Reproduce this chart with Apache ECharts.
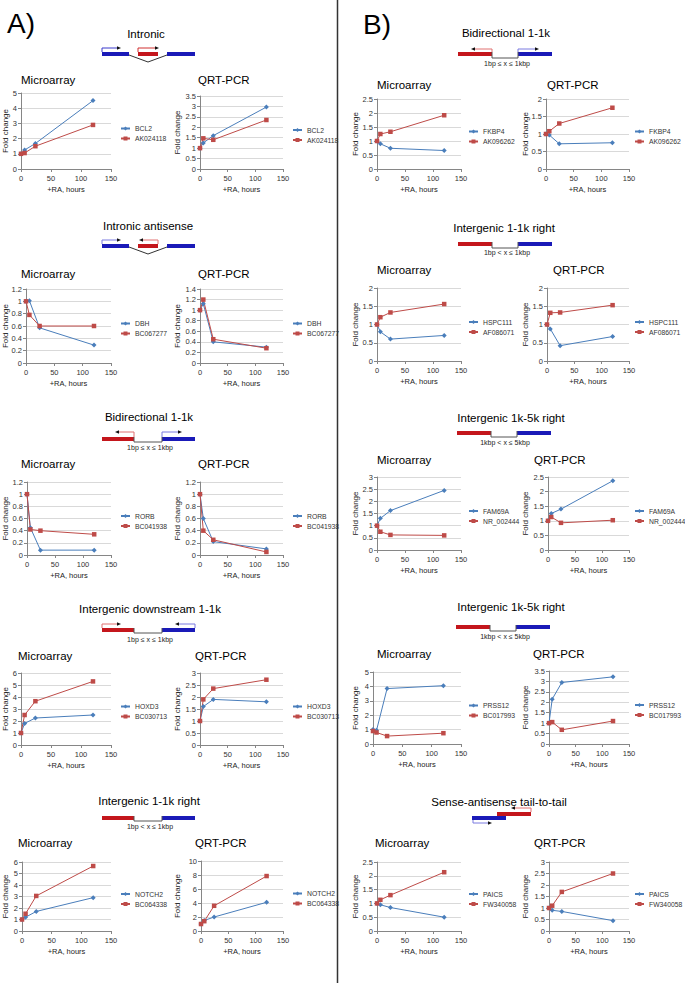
<!DOCTYPE html>
<html>
<head>
<meta charset="utf-8">
<script src="https://cdn.jsdelivr.net/npm/echarts@6/dist/echarts.min.js"></script>
<style>html,body{margin:0;padding:0;background:#fff}#c{width:685px;height:983px}</style>
</head>
<body>
<div id="c"></div>
<script>
// ---------- DATA ----------
const hours = [0, 6, 24, 120];
const sectionTitles = ['Intronic', 'Intronic antisense', 'Bidirectional 1-1k', 'Intergenic downstream 1-1k', 'Intergenic 1-1k right',
  'Bidirectional 1-1k', 'Intergenic 1-1k right', 'Intergenic 1k-5k right', 'Intergenic 1k-5k right', 'Sense-antisense tail-to-tail'];
const genesBlue = ['BCL2', 'DBH', 'RORB', 'HOXD3', 'NOTCH2', 'FKBP4', 'HSPC111', 'FAM69A', 'PRSS12', 'PAICS'];
const genesRed = ['AK024118', 'BC067277', 'BC041938', 'BC030713', 'BC064338', 'AK096262', 'AF086071', 'NR_002444', 'BC017993', 'FW340058'];

const BCL2_micro = [1.0, 1.25, 1.68, 4.5];    const AK024118_micro = [1.0, 1.05, 1.5, 2.9];
const BCL2_qrt = [1.0, 1.25, 1.6, 2.97];      const AK024118_qrt = [1.0, 1.47, 1.4, 2.35];
const DBH_micro = [1.0, 1.01, 0.57, 0.29];    const BC067277_micro = [1.0, 0.78, 0.6, 0.6];
const DBH_qrt = [1.0, 1.12, 0.4, 0.3];        const BC067277_qrt = [1.0, 1.2, 0.45, 0.28];
const RORB_micro = [1.0, 0.45, 0.08, 0.08];   const BC041938_micro = [1.0, 0.42, 0.4, 0.34];
const RORB_qrt = [1.0, 0.6, 0.22, 0.1];       const BC041938_qrt = [1.0, 0.4, 0.25, 0.05];
const HOXD3_micro = [1.0, 1.8, 2.25, 2.5];    const BC030713_micro = [1.0, 2.5, 3.65, 5.3];
const HOXD3_qrt = [1.0, 1.6, 1.9, 1.8];       const BC030713_qrt = [1.0, 1.9, 2.35, 2.72];
const NOTCH2_micro = [1.0, 1.2, 1.7, 2.9];    const BC064338_micro = [1.0, 1.5, 3.05, 5.65];
const NOTCH2_qrt = [1.0, 1.5, 2.0, 4.1];      const BC064338_qrt = [1.0, 1.4, 3.6, 7.85];
const FKBP4_micro = [1.0, 0.9, 0.74, 0.66];   const AK096262_micro = [1.0, 1.25, 1.33, 1.92];
const FKBP4_qrt = [1.0, 0.97, 0.72, 0.75];    const AK096262_qrt = [1.0, 1.08, 1.3, 1.75];
const HSPC111_micro = [1.0, 0.8, 0.6, 0.7];   const AF086071_micro = [1.0, 1.2, 1.33, 1.56];
const HSPC111_qrt = [1.0, 0.88, 0.42, 0.67];  const AF086071_qrt = [1.0, 1.32, 1.33, 1.53];
const FAM69A_micro = [1.0, 1.3, 1.62, 2.45];  const NR_002444_micro = [1.0, 0.75, 0.62, 0.6];
const FAM69A_qrt = [1.0, 1.25, 1.4, 2.37];    const NR_002444_qrt = [1.0, 1.13, 0.93, 1.02];
const PRSS12_micro = [1.0, 0.95, 3.85, 4.05]; const BC017993_micro = [0.9, 0.8, 0.55, 0.75];
const PRSS12_qrt = [1.0, 2.15, 2.95, 3.22];   const BC017993_qrt = [1.0, 1.05, 0.68, 1.1];
const PAICS_micro = [1.0, 0.95, 0.85, 0.5];   const FW340058_micro = [1.0, 1.13, 1.3, 2.13];
const PAICS_qrt = [1.0, 0.9, 0.85, 0.45];     const FW340058_qrt = [1.0, 1.1, 1.7, 2.5];

const microBlue = [BCL2_micro, DBH_micro, RORB_micro, HOXD3_micro, NOTCH2_micro, FKBP4_micro, HSPC111_micro, FAM69A_micro, PRSS12_micro, PAICS_micro];
const microRed = [AK024118_micro, BC067277_micro, BC041938_micro, BC030713_micro, BC064338_micro, AK096262_micro, AF086071_micro, NR_002444_micro, BC017993_micro, FW340058_micro];
const qrtBlue = [BCL2_qrt, DBH_qrt, RORB_qrt, HOXD3_qrt, NOTCH2_qrt, FKBP4_qrt, HSPC111_qrt, FAM69A_qrt, PRSS12_qrt, PAICS_qrt];
const qrtRed = [AK024118_qrt, BC067277_qrt, BC041938_qrt, BC030713_qrt, BC064338_qrt, AK096262_qrt, AF086071_qrt, NR_002444_qrt, BC017993_qrt, FW340058_qrt];

// y-axis tick settings
const microYMax = [5, 1.2, 1.2, 6, 6, 2.5, 2, 3, 5, 2.5];
const microYStep = [1, 0.2, 0.2, 1, 1, 0.5, 0.5, 0.5, 1, 0.5];
const qrtYMax = [3.5, 1.4, 1.2, 3, 10, 2, 2, 2.5, 3.5, 3];
const qrtYStep = [0.5, 0.2, 0.2, 0.5, 2, 0.5, 0.5, 0.5, 0.5, 0.5];
const xTicks = [0, 50, 100, 150];

// ---------- LAYOUT ----------
const FONT = 'Liberation Sans, Arial, Helvetica, sans-serif';
const BLUE = '#4a7ebb', RED = '#be4b48';
const titlePos = [[146,34],[148,226],[149,417],[150,609],[149,801],[506,33],[504,228],[511,418],[511,607],[499,802]];
const subPos = [
  [[21,80],[198,80]], [[21,274],[198,274]], [[21,464],[198,464]], [[18,656],[195,656]], [[18,843],[195,843]],
  [[377,85],[547,85]], [[377,270],[553,270]], [[377,460],[534,460]], [[377,654],[533,654]], [[375,843],[534,843]]
];
const boxes = [
  [[21,111,93,169],[200,283,96,169]],
  [[26,111,289,363],[200,283,289,363]],
  [[27,111,482,555],[200,283,482,555]],
  [[21,111,673,745],[200,283,673,745]],
  [[22,111,862,931],[201,283,861,931]],
  [[377,461,99,169],[546,629,99,169]],
  [[377,461,288,361],[547,629,288,361]],
  [[377,461,477,550],[548,629,477,550]],
  [[373,461,672,744],[549,629,671,744]],
  [[377,461,862,931],[549,629,862,931]]
];
const legendX = [[120,292],[468,634]];
const nameX = [[5,177],[355,525]];

const grids = [], xAxes = [], yAxes = [], series = [], legends = [], graphics = [];

function txt(x, y, s, size, align, color, extra) {
  graphics.push(Object.assign({type:'text', x:x, y:y, silent:true,
    style:{text:s, fontSize:size, fontFamily:FONT, fill:color||'#000', align:align||'left', verticalAlign:'middle'}}, extra||{}));
}

let gi = 0;
for (let s = 0; s < 10; s++) {
  const col = s < 5 ? 0 : 1;
  txt(titlePos[s][0], titlePos[s][1], sectionTitles[s], 11.5, 'center');
  for (let m = 0; m < 2; m++) {
    const b = boxes[s][m];
    txt(subPos[s][m][0], subPos[s][m][1], m === 0 ? 'Microarray' : 'QRT-PCR', 11.5, 'left');
    grids.push({left:b[0], top:b[2], width:b[1]-b[0], height:b[3]-b[2], containLabel:false, outerBoundsMode:'none', show:false});
    xAxes.push({type:'value', gridIndex:gi, min:xTicks[0], max:xTicks[xTicks.length-1], interval:50,
      axisLine:{show:true, onZero:false, lineStyle:{color:'#868686', width:1}},
      axisTick:{show:true, length:3, lineStyle:{color:'#868686'}},
      axisLabel:{fontSize:7.5, color:'#333', margin:5, fontFamily:FONT},
      splitLine:{show:false},
      name:'+RA, hours', nameLocation:'middle', nameGap:16, nameMoveOverlap:false,
      nameTextStyle:{fontSize:7.5, color:'#222', fontFamily:FONT}});
    const ymax = m === 0 ? microYMax[s] : qrtYMax[s];
    const ystep = m === 0 ? microYStep[s] : qrtYStep[s];
    yAxes.push({type:'value', gridIndex:gi, min:0, max:ymax, interval:ystep,
      axisLine:{show:true, lineStyle:{color:'#868686', width:1}},
      axisTick:{show:true, length:3, lineStyle:{color:'#868686'}},
      axisLabel:{fontSize:7.5, color:'#333', margin:4, fontFamily:FONT},
      splitLine:{show:true, lineStyle:{color:'#d9d9d9', width:1}},
      name:'Fold change', nameLocation:'middle', nameGap:b[0]-nameX[col][m]-4, nameMoveOverlap:false,
      nameTextStyle:{fontSize:8, color:'#222', fontFamily:FONT}});
    const bArr = m === 0 ? microBlue[s] : qrtBlue[s];
    const rArr = m === 0 ? microRed[s] : qrtRed[s];
    series.push({type:'line', name:genesBlue[s], xAxisIndex:gi, yAxisIndex:gi,
      data:hours.map((h,k)=>[h, bArr[k]]), symbol:'diamond', symbolSize:5, showSymbol:true,
      lineStyle:{width:1, color:BLUE}, itemStyle:{color:BLUE}, animation:false});
    series.push({type:'line', name:genesRed[s], xAxisIndex:gi, yAxisIndex:gi,
      data:hours.map((h,k)=>[h, rArr[k]]), symbol:'rect', symbolSize:4.5, showSymbol:true,
      lineStyle:{width:1, color:RED}, itemStyle:{color:RED}, animation:false});
    const mid = (b[2] + b[3]) / 2;
    legends.push({left:legendX[col][m], top:mid-6, orient:'vertical', itemWidth:9, itemHeight:5, itemGap:3,
      padding:0, selectedMode:false, data:[genesBlue[s], genesRed[s]],
      textStyle:{fontSize:6.8, color:'#333', fontFamily:FONT}});
    gi++;
  }
}

// ---------- DECORATIONS (gene diagrams) ----------
const RB = '#c4161c', BB = '#1a1ab8';
function rect(x, y, w, h, c) { graphics.push({type:'rect', silent:true, shape:{x:x, y:y, width:w, height:h}, style:{fill:c}}); }
function pline(pts, c, w) { graphics.push({type:'polyline', silent:true, shape:{points:pts}, style:{stroke:c||'#333', lineWidth:w||1, fill:null}}); }
function arrow(x0, yb, yt, x1, c) {
  pline([[x0,yb],[x0,yt],[x1,yt]], c, 1);
  const d = x1 > x0 ? 1 : -1;
  graphics.push({type:'polygon', silent:true, shape:{points:[[x1+d*2,yt],[x1-d*2,yt-1.8],[x1-d*2,yt+1.8]]}, style:{fill:'#111'}});
}
// divider and panel letters
graphics.push({type:'line', silent:true, shape:{x1:337.5, y1:0, x2:337.5, y2:983}, style:{stroke:'#333', lineWidth:1.5}});
txt(7, 23, 'A)', 28, 'left');
txt(363, 24, 'B)', 28, 'left');

// Left 1: Intronic
rect(102,52,27,4,BB); rect(138,52,20,4,RB); rect(167,52,28,4,BB);
pline([[129,55],[148,62],[167,55]], '#333');
arrow(102,52,48,119,'#3a3acc'); arrow(138,52,48,157,'#d03030');
// Left 2: Intronic antisense
rect(102,244,27,4,BB); rect(138,244,20,4,RB); rect(167,244,28,4,BB);
pline([[129,247],[148,254],[167,247]], '#333');
arrow(102,244,240,119,'#7a7ae0'); arrow(158,244,240,141,'#e07070');
// Left 3: Bidirectional
rect(102,437,32,4,RB); rect(162,437,33,4,BB);
pline([[134,437],[134,442],[162,442],[162,437]], '#555');
arrow(134,437,432,117,'#e07070'); arrow(162,437,432,180,'#7a7ae0');
txt(150,447,'1bp \u2264 x \u2264 1kbp',7,'center','#222');
// Left 4: Intergenic downstream
rect(102,628,32,4,RB); rect(162,628,33,4,BB);
pline([[134,628],[134,633],[162,633],[162,628]], '#555');
arrow(102,628,624,119,'#e07070'); arrow(195,628,624,177,'#7a7ae0');
txt(150,639,'1bp \u2264 x \u2264 1kbp',7,'center','#222');
// Left 5: Intergenic 1-1k right
rect(102,816,32,4,RB); rect(162,816,33,4,BB);
pline([[134,816],[134,821],[162,821],[162,816]], '#555');
txt(150,826,'1bp < x \u2264 1kbp',7,'center','#222');
// Right 1: Bidirectional
rect(458,52,34,4,RB); rect(518,52,34,4,BB);
pline([[492,52],[492,58],[518,58],[518,52]], '#555');
arrow(492,52,49,473,'#e07070'); arrow(518,52,49,537,'#7a7ae0');
txt(507,63,'1bp \u2264 x \u2264 1kbp',7,'center','#222');
// Right 2
rect(458,242,34,4,RB); rect(518,242,34,4,BB);
pline([[492,242],[492,248],[518,248],[518,242]], '#555');
txt(507,252,'1bp < x \u2264 1kbp',7,'center','#222');
// Right 3
rect(457,431,34,4,RB); rect(517,431,34,4,BB);
pline([[491,431],[491,437],[517,437],[517,431]], '#555');
txt(505,442,'1kbp < x \u2264 5kbp',7,'center','#222');
// Right 4
rect(456,625,34,4,RB); rect(516,625,34,4,BB);
pline([[490,625],[490,631],[516,631],[516,625]], '#555');
txt(505,636,'1kbp < x \u2264 5kbp',7,'center','#222');
// Right 5: tail-to-tail
rect(472,816,34,4,BB); rect(497,812,34,4,RB);
arrow(531,812,808,513,'#e07070'); arrow(473,820,823,490,'#7a7ae0');

const chart = echarts.init(document.getElementById('c'), null, {renderer:'svg', width:685, height:983});
chart.setOption({
  backgroundColor:'#ffffff',
  animation:false,
  grid:grids, xAxis:xAxes, yAxis:yAxes, series:series, legend:legends, graphic:graphics
});
</script>
</body>
</html>
